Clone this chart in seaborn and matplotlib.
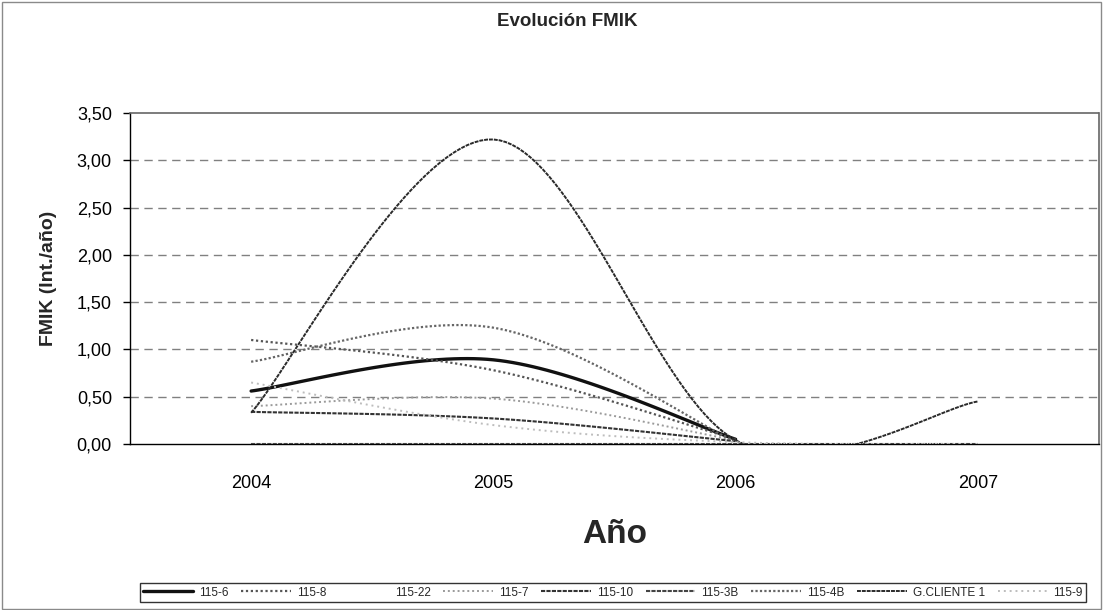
import numpy as np
import pandas as pd
import matplotlib
matplotlib.use("Agg")
import matplotlib.pyplot as plt
import seaborn as sns
from matplotlib.patches import Rectangle
from matplotlib.ticker import FuncFormatter

# ---- data ----
years = ["2004", "2005", "2006", "2007"]
series_names = ["115-6", "115-8", "115-22", "115-7", "115-10",
                "115-3B", "115-4B", "G.CLIENTE 1", "115-9"]
v_115_6 = [0.56, 0.89, 0.05, np.nan]
v_115_8 = [1.10, 0.78, 0.05, np.nan]
v_115_22 = [0.00, 0.00, 0.00, 0.00]
v_115_7 = [0.40, 0.48, 0.04, np.nan]
v_115_10 = [0.34, 0.27, 0.03, np.nan]
v_115_3B = [0.00, 0.00, 0.00, 0.00]
v_115_4B = [0.87, 1.23, 0.02, np.nan]
v_gcliente = [0.33, 3.22, 0.04, 0.45]
v_115_9 = [0.65, 0.20, 0.02, 0.00]
yticks = [0.0, 0.5, 1.0, 1.5, 2.0, 2.5, 3.0, 3.5]

values = [v_115_6, v_115_8, v_115_22, v_115_7, v_115_10,
          v_115_3B, v_115_4B, v_gcliente, v_115_9]

styles = {
    "115-6": dict(color="#111111", lw=2.4, ls="-"),
    "115-8": dict(color="#555555", lw=1.6, ls=(0, (1, 1.2))),
    "115-22": dict(color="#ffffff", lw=1.0, ls="-"),
    "115-7": dict(color="#9a9a9a", lw=1.4, ls=(0, (1, 1.5))),
    "115-10": dict(color="#333333", lw=1.5, ls=(0, (2, 0.6))),
    "115-3B": dict(color="#444444", lw=1.5, ls=(0, (2, 0.6))),
    "115-4B": dict(color="#666666", lw=1.6, ls=(0, (1, 1))),
    "G.CLIENTE 1": dict(color="#2a2a2a", lw=1.4, ls=(0, (2, 0.5))),
    "115-9": dict(color="#bdbdbd", lw=1.4, ls=(0, (1, 2))),
}


def smooth(xs, ys, n=40):
    """Excel-like smoothed line (Catmull-Rom Bezier) through the points."""
    P = np.column_stack([xs, ys]).astype(float)
    out = []
    m = len(P)
    if m < 2:
        return P[:, 0], P[:, 1]
    for i in range(m - 1):
        p0 = P[max(i - 1, 0)]
        p1 = P[i]
        p2 = P[i + 1]
        p3 = P[min(i + 2, m - 1)]
        c1 = p1 + (p2 - p0) / 6.0
        c2 = p2 - (p3 - p1) / 6.0
        t = np.linspace(0, 1, n)[:, None]
        seg = ((1 - t) ** 3) * p1 + 3 * ((1 - t) ** 2) * t * c1 \
            + 3 * (1 - t) * t ** 2 * c2 + t ** 3 * p2
        out.append(seg if i == 0 else seg[1:])
    S = np.vstack(out)
    return S[:, 0], S[:, 1]


sns.set_theme(style="white")
plt.rcParams["font.family"] = ["Liberation Sans", "DejaVu Sans"]

fig = plt.figure(figsize=(11.04, 6.10), dpi=100)
ax = fig.add_axes([130 / 1104, 1 - 444 / 610, 969 / 1104, 331 / 610])

for name, vals in zip(series_names, values):
    vals = np.asarray(vals, dtype=float)
    xpos = np.arange(len(years), dtype=float)
    mask = ~np.isnan(vals)
    sx, sy = smooth(xpos[mask], vals[mask])
    df = pd.DataFrame({"x": sx, "y": sy})
    st = styles[name]
    sns.lineplot(data=df, x="x", y="y", ax=ax, sort=False, estimator=None,
                 color=st["color"], lw=st["lw"], linestyle=st["ls"],
                 label=name, zorder=3)

ax.set_xlim(-0.5, 3.5)
ax.set_ylim(0, 3.5)
ax.set_yticks(yticks)
ax.yaxis.set_major_formatter(FuncFormatter(lambda v, p: f"{v:.2f}".replace(".", ",")))
ax.set_xticks(range(len(years)))
ax.set_xticklabels(years)
ax.set_xticks([-0.5, 0.5, 1.5, 2.5, 3.5], minor=True)
ax.tick_params(axis="x", which="major", length=0, labelsize=13, pad=22, colors="#000000")
ax.tick_params(axis="x", which="minor", length=5, width=1, direction="out", color="#000000")
ax.tick_params(axis="y", which="major", length=5, width=1, direction="out",
               labelsize=13, pad=8, colors="#000000", left=True)

for y in yticks[1:-1]:
    ax.axhline(y, color="#808080", lw=1, ls=(0, (6, 4)), zorder=1)

ax.spines["left"].set_color("#000000")
ax.spines["left"].set_linewidth(1)
ax.spines["bottom"].set_color("#000000")
ax.spines["bottom"].set_linewidth(1)
for s in ["top", "right"]:
    ax.spines[s].set_color("#666666")
    ax.spines[s].set_linewidth(1.2)
    ax.spines[s].set_linestyle((0, (1, 1)))

ax.set_xlabel("Año", fontsize=24, fontweight="bold", labelpad=20)
ax.set_ylabel("FMIK (Int./año)", fontsize=14, fontweight="bold", labelpad=14)
fig.text(567 / 1104, 1 - 21 / 610, "Evolución FMIK", ha="center", va="center",
         fontsize=13.5, fontweight="bold")

ax.get_legend().remove()
handles, labels = ax.get_legend_handles_labels()
leg = fig.legend(handles, labels, ncol=9, loc="lower left",
                 bbox_to_anchor=(134 / 1104, 2 / 610, 958 / 1104, 20 / 610),
                 mode="expand", fontsize=8.5, handlelength=4.2, handletextpad=0.5,
                 borderpad=0.3, frameon=True, fancybox=False, columnspacing=1.0)
leg.get_frame().set_edgecolor("#000000")
leg.get_frame().set_linewidth(1)

fig.patches.append(Rectangle((2 / 1104, 1 / 610), 1099 / 1104, 607 / 610,
                             transform=fig.transFigure, fill=False,
                             ec="#8a8a8a", lw=1))

fig.savefig("out.png", dpi=100, facecolor="white")
